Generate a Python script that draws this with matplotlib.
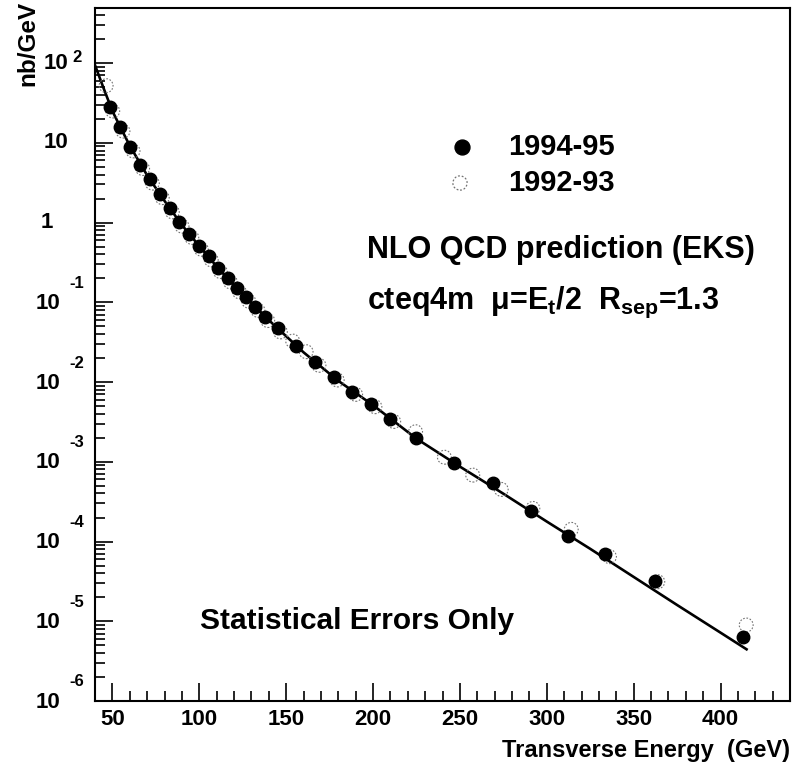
import numpy as np
import matplotlib
matplotlib.use("Agg")
import matplotlib.pyplot as plt
from matplotlib.ticker import LogLocator, NullFormatter, MultipleLocator

plt.rcParams['font.family'] = ['Liberation Sans', 'DejaVu Sans']
plt.rcParams['font.weight'] = 'bold'
plt.rcParams['mathtext.fontset'] = 'custom'
plt.rcParams['mathtext.rm'] = 'Liberation Sans:bold'
plt.rcParams['mathtext.it'] = 'Liberation Sans:bold'
plt.rcParams['mathtext.bf'] = 'Liberation Sans:bold'
plt.rcParams['mathtext.default'] = 'rm'

# 1994-95 data (filled circles)
et_9495 = [48.7, 54.6, 60.4, 65.9, 71.5, 77.2, 83.0, 88.6, 94.2, 99.7, 105.4,
           110.6, 116.4, 121.6, 127.0, 132.3, 137.9, 145.2, 155.8, 166.9,
           177.4, 188.0, 199.1, 209.9, 224.8, 246.9, 268.9, 290.8, 312.1,
           333.5, 362.4, 412.9]
xs_9495 = [28.3, 15.8, 8.85, 5.26, 3.51, 2.28, 1.52, 1.01, 0.728, 0.515, 0.380,
           0.271, 0.200, 0.150, 0.115, 0.0879, 0.0659, 0.0471, 0.0282, 0.0176,
           0.01146, 0.00755, 0.0053, 0.00343, 0.00197, 9.73e-4, 5.46e-4,
           2.41e-4, 1.17e-4, 6.9e-5, 3.22e-5, 6.4e-6]

# 1992-93 data (open circles)
et_9293 = [46.4, 50.2, 56.1, 61.9, 67.4, 73.0, 78.7, 84.5, 90.1, 95.7, 101.2,
           106.9, 112.1, 117.9, 123.1, 128.5, 133.8, 139.4, 146.7, 153.8,
           161.5, 168.9, 179.4, 190.0, 201.1, 211.9, 224.5, 241.1, 257.4,
           273.8, 292.0, 314.1, 336.1, 363.9, 414.8]
xs_9293 = [52, 25.0, 14.0, 7.9, 4.75, 3.12, 2.05, 1.36, 0.90, 0.65, 0.462,
           0.340, 0.243, 0.180, 0.135, 0.103, 0.079, 0.059, 0.0425, 0.0326,
           0.024, 0.0162, 0.0106, 0.0070, 0.0049, 0.0032, 0.00238, 0.00114,
           6.8e-4, 4.5e-4, 2.6e-4, 1.42e-4, 6.45e-5, 3.13e-5, 8.97e-6]

# NLO QCD (EKS) prediction
et_nlo = [40, 45, 50, 55, 60, 70, 80, 90, 100, 110, 120, 140, 160, 180, 200,
          225, 250, 275, 300, 325, 350, 375, 400, 415]
xs_nlo = [94, 48, 25, 15.1, 9.2, 3.91, 1.87, 0.933, 0.507, 0.282, 0.163,
          0.0598, 0.0236, 0.01035, 0.00513, 0.00195, 8.7e-4, 3.98e-4, 1.78e-4,
          8.1e-5, 3.6e-5, 1.6e-5, 7.2e-6, 4.45e-6]

ytick_exp = [-6, -5, -4, -3, -2, -1, 0, 1, 2]

W, H = 792, 764
fig = plt.figure(figsize=(W / 100, H / 100), dpi=100)
ax = fig.add_axes([95 / W, 1 - 701 / H, 695 / W, 693 / H])

ax.plot(et_nlo, xs_nlo, color='black', lw=1.9, zorder=2)
ax.scatter(et_9293, xs_9293, s=100, facecolors='none', edgecolors='0.45',
           linewidths=0.8, linestyles=(0, (1.5, 1.5)), zorder=3)
ax.plot(et_9495, xs_9495, 'o', color='black', ms=9, zorder=4)

ax.set_yscale('log')
ax.set_xlim(40, 440)
ax.set_ylim(1e-6, 490)

for s in ax.spines.values():
    s.set_linewidth(1.5)

ax.xaxis.set_major_locator(MultipleLocator(50))
ax.xaxis.set_minor_locator(MultipleLocator(10))
ax.yaxis.set_major_locator(LogLocator(base=10, numticks=20))
ax.yaxis.set_minor_locator(LogLocator(base=10, subs=np.arange(2, 10), numticks=100))
ax.yaxis.set_minor_formatter(NullFormatter())
ax.tick_params(which='both', direction='in', top=False, right=False, width=1.2)
ax.tick_params(which='major', length=13)
ax.tick_params(which='minor', length=7)
ax.tick_params(axis='x', labelsize=16, pad=6)
ax.tick_params(axis='y', labelleft=False)
for lab in ax.get_xticklabels():
    lab.set_fontweight('bold')

# ROOT-style y tick labels
for k in ytick_exp:
    if k == 0:
        ax.annotate('1', xy=(0, 10.0 ** k), xycoords=('axes fraction', 'data'),
                    xytext=(-42, 0), textcoords='offset pixels',
                    ha='right', va='center', fontsize=16, fontweight='bold')
    elif k == 1:
        ax.annotate('10', xy=(0, 10.0 ** k), xycoords=('axes fraction', 'data'),
                    xytext=(-27, 0), textcoords='offset pixels',
                    ha='right', va='center', fontsize=16, fontweight='bold')
    elif k == 2:
        ax.annotate('10', xy=(0, 10.0 ** k), xycoords=('axes fraction', 'data'),
                    xytext=(-27, 0), textcoords='offset pixels',
                    ha='right', va='center', fontsize=16, fontweight='bold')
        ax.annotate(str(k), xy=(0, 10.0 ** k), xycoords=('axes fraction', 'data'),
                    xytext=(-23, 6), textcoords='offset pixels',
                    ha='left', va='center', fontsize=12, fontweight='bold')
    else:
        ax.annotate('10', xy=(0, 10.0 ** k), xycoords=('axes fraction', 'data'),
                    xytext=(-35, -1), textcoords='offset pixels',
                    ha='right', va='center', fontsize=16, fontweight='bold')
        ax.annotate(str(k), xy=(0, 10.0 ** k), xycoords=('axes fraction', 'data'),
                    xytext=(-26, 19), textcoords='offset pixels',
                    ha='left', va='center', fontsize=12, fontweight='bold')

fig.text(28 / W, 1 - 1 / H, 'nb/GeV', rotation=90, ha='center', va='top',
         fontsize=17.5, fontweight='bold')
fig.text(790 / W, 1 - 750 / H, 'Transverse Energy  (GeV)', ha='right',
         va='center', fontsize=17, fontweight='bold')

# legend
ax.scatter([(462 - 95) / 695], [1 - (147 - 8) / 693], s=115, color='black',
           transform=ax.transAxes, clip_on=False)
ax.scatter([(460 - 95) / 695], [1 - (183 - 8) / 693], s=105, facecolors='none',
           edgecolors='0.45', linewidths=0.9, linestyles=(0, (1.5, 1.5)),
           transform=ax.transAxes, clip_on=False)
fig.text(508 / W, 1 - 147 / H, '1994-95', ha='left', va='center',
         fontsize=21, fontweight='bold')
fig.text(508 / W, 1 - 183 / H, '1992-93', ha='left', va='center',
         fontsize=21, fontweight='bold')

fig.text(367 / W, 1 - 250 / H, 'NLO QCD prediction (EKS)', ha='left',
         va='center', fontsize=22, fontweight='bold')
fig.text(367 / W, 1 - 302 / H,
         r'cteq4m  $\mu$=E$_\mathrm{t}$/2  R$_\mathrm{sep}$=1.3', ha='left',
         va='center', fontsize=22, fontweight='bold')
fig.text(200 / W, 1 - 621 / H, 'Statistical Errors Only', ha='left',
         va='center', fontsize=21.5, fontweight='bold')

fig.savefig('out.png', dpi=100)
